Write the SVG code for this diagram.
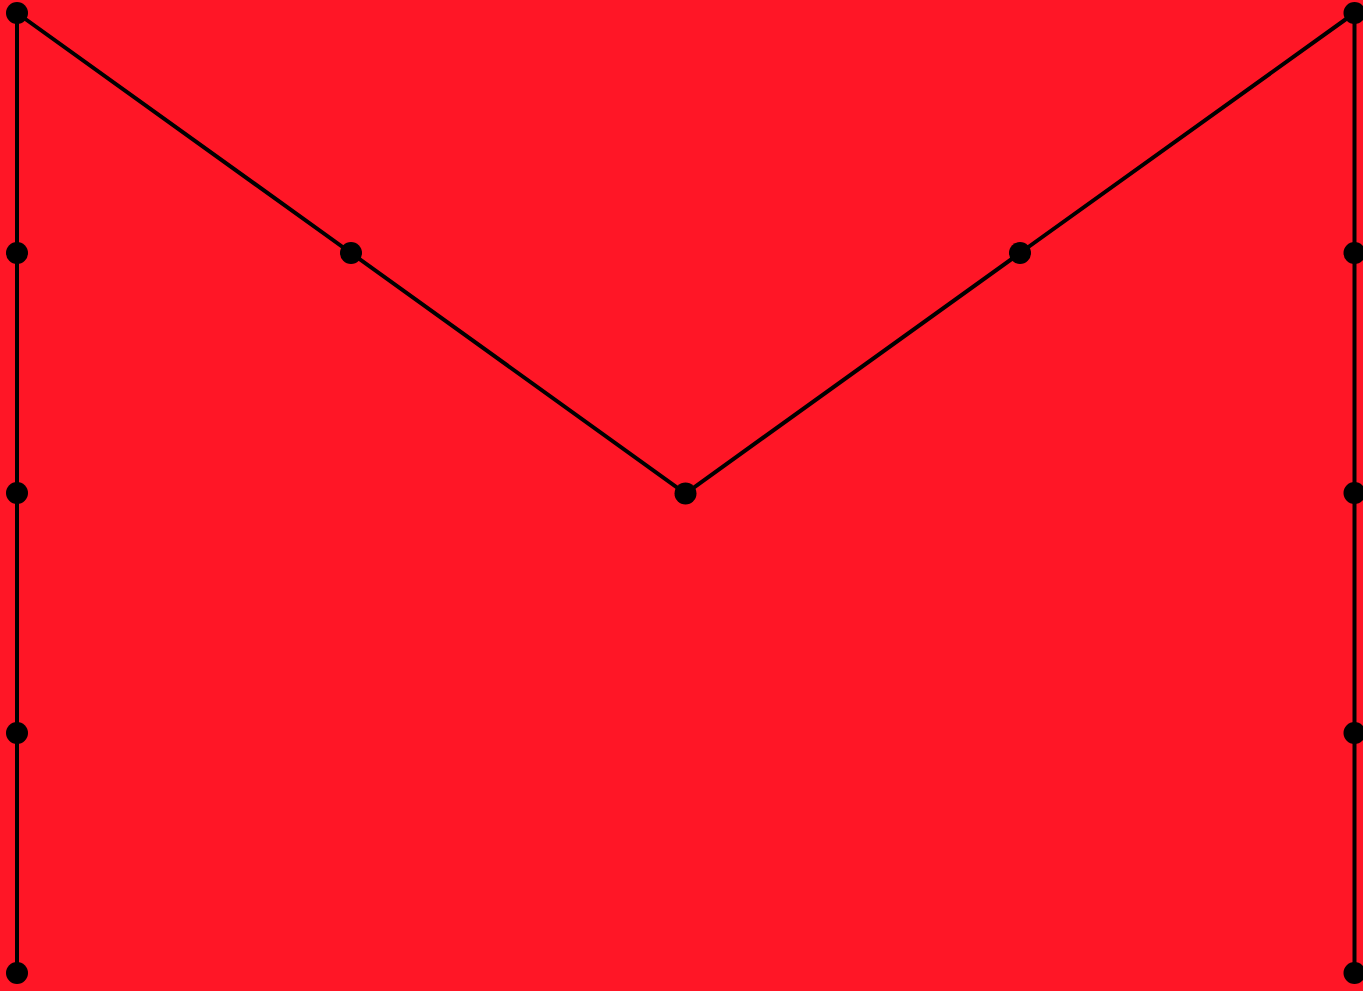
<svg xmlns="http://www.w3.org/2000/svg" width="1363" height="991" viewBox="0 0 1363 991">
<style>
.edge{stroke:#000;stroke-width:4;fill:none}
.node{fill:#000}
</style>
<rect width="1363" height="991" fill="#ff1626"/>
<g id="connectors">
<line class="edge" x1="17" y1="13" x2="17" y2="973"/>
<line class="edge" x1="1354.5" y1="13" x2="1354.5" y2="973"/>
<polyline class="edge" points="17,13 351,253 685.5,493.5 1020,253 1354.5,13"/>
</g>
<g id="n1"><circle class="node" cx="17" cy="13" r="11"/></g>
<g id="n2"><circle class="node" cx="17" cy="253" r="11"/></g>
<g id="n3"><circle class="node" cx="17" cy="493" r="11"/></g>
<g id="n4"><circle class="node" cx="17" cy="733" r="11"/></g>
<g id="n5"><circle class="node" cx="17" cy="973" r="11"/></g>
<g id="n6"><circle class="node" cx="1354.5" cy="13" r="11"/></g>
<g id="n7"><circle class="node" cx="1354.5" cy="253" r="11"/></g>
<g id="n8"><circle class="node" cx="1354.5" cy="493" r="11"/></g>
<g id="n9"><circle class="node" cx="1354.5" cy="733" r="11"/></g>
<g id="n10"><circle class="node" cx="1354.5" cy="973" r="11"/></g>
<g id="n11"><circle class="node" cx="351" cy="253" r="11"/></g>
<g id="n12"><circle class="node" cx="685.5" cy="493.5" r="11"/></g>
<g id="n13"><circle class="node" cx="1020" cy="253" r="11"/></g>
</svg>
